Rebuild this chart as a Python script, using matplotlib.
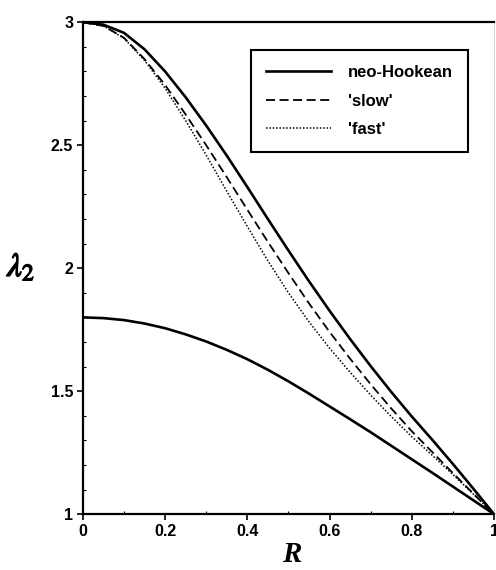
import matplotlib
matplotlib.use('Agg')
import matplotlib.pyplot as plt
import matplotlib.patheffects as pe
from matplotlib.ticker import MultipleLocator

# radius values
R = [0, 0.05, 0.1, 0.15, 0.2, 0.25, 0.3, 0.35, 0.4, 0.45, 0.5,
     0.55, 0.6, 0.65, 0.7, 0.75, 0.8, 0.85, 0.9, 0.95, 1.0]

# upper branch, neo-Hookean
neo_upper = [3.0, 2.99, 2.957, 2.89, 2.80, 2.695, 2.58, 2.458, 2.33, 2.20, 2.072,
             1.947, 1.827, 1.712, 1.602, 1.497, 1.397, 1.302, 1.204, 1.103, 1.0]
# 'slow'
slow = [3.0, 2.985, 2.937, 2.85, 2.745, 2.625, 2.50, 2.37, 2.238, 2.107, 1.98,
        1.857, 1.741, 1.632, 1.528, 1.43, 1.337, 1.252, 1.167, 1.083, 1.0]
# 'fast'
fast = [3.0, 2.985, 2.935, 2.845, 2.732, 2.60, 2.46, 2.313, 2.17, 2.03, 1.90,
        1.782, 1.675, 1.577, 1.484, 1.397, 1.315, 1.239, 1.161, 1.081, 1.0]
# lower branch, neo-Hookean
neo_lower = [1.80, 1.797, 1.789, 1.775, 1.756, 1.731, 1.702, 1.668, 1.630, 1.587, 1.540,
             1.490, 1.438, 1.386, 1.333, 1.278, 1.223, 1.168, 1.112, 1.056, 1.0]

xticks = [0, 0.2, 0.4, 0.6, 0.8, 1]
xticklabels = ['0', '0.2', '0.4', '0.6', '0.8', '1']
yticks = [1, 1.5, 2, 2.5, 3]
yticklabels = ['1', '1.5', '2', '2.5', '3']

plt.rcParams['font.family'] = ['Liberation Sans', 'DejaVu Sans']
plt.rcParams['mathtext.fontset'] = 'stix'

fig = plt.figure(figsize=(4.96, 5.70), dpi=100)
ax = fig.add_axes([0.167, 0.098, 0.829, 0.863])

ax.plot(R, neo_upper, color='black', lw=1.9, label='neo-Hookean')
ax.plot(R, slow, color='black', lw=1.3, ls=(0, (5, 2.5)), label="'slow'")
ax.plot(R, fast, color='black', lw=1.1, ls=(0, (1, 1.2)), label="'fast'")
ax.plot(R, neo_lower, color='black', lw=1.9)

ax.set_xlim(0, 1)
ax.set_ylim(1, 3)
ax.set_xticks(xticks)
ax.set_xticklabels(xticklabels, fontweight='bold', fontsize=11.5)
ax.set_yticks(yticks)
ax.set_yticklabels(yticklabels, fontweight='bold', fontsize=11.5)
ax.xaxis.set_minor_locator(MultipleLocator(0.1))
ax.yaxis.set_minor_locator(MultipleLocator(0.1))
ax.tick_params(which='major', direction='out', length=4, width=1.2, pad=3)
ax.tick_params(which='minor', direction='in', length=2.5, width=0.8)
ax.tick_params(top=False, right=False, which='both')

for s in ['left', 'bottom', 'top']:
    ax.spines[s].set_linewidth(1.6)
ax.spines['right'].set_color('#cccccc')
ax.spines['right'].set_linewidth(0.6)

ax.set_xlabel('R', family='Liberation Serif', style='italic', fontweight='bold', fontsize=21)
ax.xaxis.set_label_coords(0.508, -0.055)
ylab = ax.set_ylabel(r'$\lambda_2$', rotation=0, fontsize=24)
ylab.set_path_effects([pe.withStroke(linewidth=1.0, foreground='black')])
ax.yaxis.set_label_coords(-0.15, 0.47)

leg = ax.legend(loc='upper right', bbox_to_anchor=(0.937, 0.943), borderaxespad=0,
                fancybox=False, edgecolor='black', framealpha=1,
                prop={'weight': 'bold', 'size': 12}, handlelength=3.9,
                handletextpad=1.0, borderpad=0.9, labelspacing=0.8)
leg.get_frame().set_linewidth(1.5)

fig.savefig('out.png', dpi=100)
